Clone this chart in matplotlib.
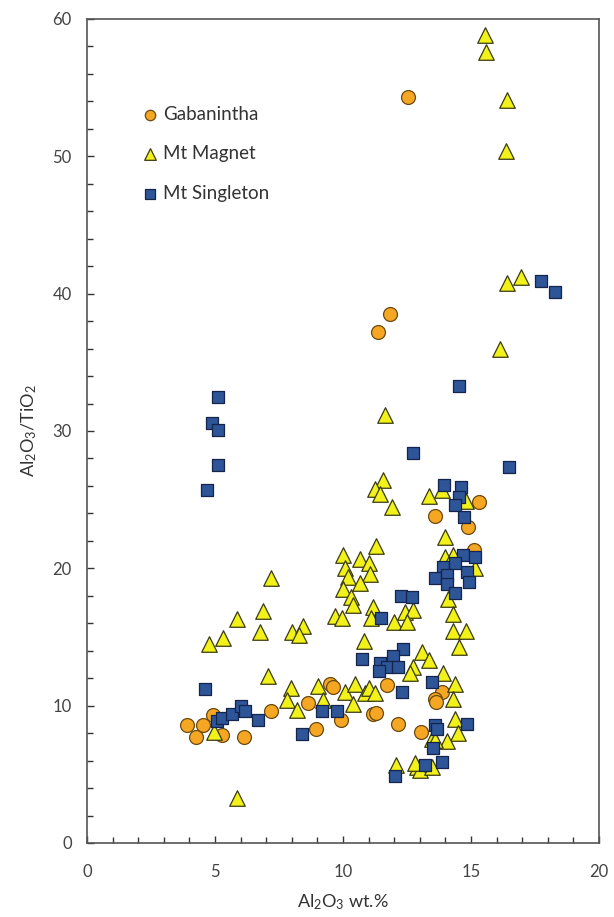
import matplotlib
matplotlib.use("Agg")
import matplotlib.pyplot as plt
from matplotlib.ticker import MultipleLocator

plt.rcParams['font.family'] = ['Lato', 'DejaVu Sans']
plt.rcParams['mathtext.fontset'] = 'custom'
plt.rcParams['mathtext.rm'] = 'Lato'
plt.rcParams['mathtext.it'] = 'Lato:italic'

# Gabanintha (circles)
gab_x = [12.55, 11.84, 11.35, 15.3, 13.59, 14.88, 15.12, 11.7, 13.85, 13.59, 13.63,
         11.18, 11.29, 12.16, 13.04, 9.94, 9.5, 9.6, 8.65, 8.96, 7.18, 6.13, 5.26,
         4.93, 4.52, 3.89, 4.26]
gab_y = [54.3, 38.5, 37.2, 24.8, 23.8, 23.0, 21.3, 11.5, 11.0, 10.5, 10.3,
         9.4, 9.5, 8.7, 8.05, 8.95, 11.6, 11.35, 10.2, 8.3, 9.6, 7.75, 7.9,
         9.3, 8.6, 8.6, 7.75]

# Mt Magnet (triangles)
mag_x = [15.55, 15.6, 16.4, 16.35, 16.4, 16.94, 16.13, 11.64,
         11.58, 11.25, 11.45, 11.9,
         13.37, 13.85, 14.8, 13.98,
         13.98, 14.3, 15.16, 14.1, 14.3, 14.3, 14.8, 14.55,
         10.0, 10.66, 11.0, 10.08, 11.05, 10.2, 10.66, 10.0, 10.33, 10.4,
         9.69, 9.95, 11.29, 11.18, 11.1, 11.99, 12.42, 12.75, 12.5, 10.82,
         7.17, 6.86, 5.85, 6.76, 5.33, 4.78, 8.0, 8.45, 8.3, 7.06, 5.85, 4.97,
         7.96, 7.8, 8.19, 9.04, 9.23, 10.08, 10.47, 10.4, 10.86, 11.0, 11.25,
         13.07, 13.35, 12.75, 12.6, 13.89, 14.38, 14.3, 14.36, 14.48, 14.06,
         13.46, 13.59, 12.88, 13.0, 13.46, 12.81, 12.08]
mag_y = [58.8, 57.6, 54.1, 50.4, 40.8, 41.2, 36.0, 31.2,
         26.4, 25.8, 25.4, 24.5,
         25.3, 25.7, 24.9, 22.3,
         20.85, 21.0, 20.05, 17.8, 16.7, 15.45, 15.45, 14.3,
         21.0, 20.7, 20.4, 20.0, 19.6, 19.4, 18.9, 18.5, 17.9, 17.3,
         16.5, 16.4, 21.6, 17.2, 16.4, 16.1, 16.8, 17.0, 16.1, 14.7,
         19.3, 16.9, 16.3, 15.4, 14.9, 14.5, 15.4, 15.8, 15.15, 12.15, 3.25, 8.05,
         11.3, 10.4, 9.7, 11.4, 10.4, 11.0, 11.55, 10.15, 10.95, 11.25, 10.9,
         13.9, 13.3, 12.85, 12.4, 12.35, 11.6, 10.45, 9.05, 8.0, 7.45,
         7.6, 7.5, 5.55, 5.3, 5.55, 5.8, 5.7]

# Mt Singleton (squares)
sin_x = [5.1, 4.9, 5.13, 5.1, 4.67,
         17.75, 18.3, 14.55, 16.5, 12.72,
         13.93, 14.6, 14.54, 14.38, 14.74,
         14.7, 15.16, 13.9, 14.38, 13.6, 14.05, 14.83, 14.05, 14.93, 14.38,
         12.25, 12.68, 11.47, 10.73,
         12.36, 11.97, 11.45, 11.7, 12.16, 11.42, 12.29, 13.46,
         13.59, 13.68, 14.85, 13.53, 13.85, 13.2, 12.03,
         4.6, 5.09, 5.26, 5.65, 6.02, 6.17, 6.69, 8.38, 9.16, 9.78]
sin_y = [32.5, 30.6, 30.1, 27.5, 25.7,
         40.9, 40.1, 33.3, 27.4, 28.4,
         26.05, 25.9, 25.2, 24.6, 23.75,
         20.95, 20.8, 20.1, 20.4, 19.3, 19.5, 19.75, 18.85, 19.0, 18.2,
         18.0, 17.9, 16.4, 13.4,
         14.1, 13.6, 13.1, 12.85, 12.8, 12.5, 11.0, 11.75,
         8.6, 8.3, 8.7, 6.95, 5.9, 5.7, 4.85,
         11.2, 8.9, 9.1, 9.4, 9.95, 9.6, 8.95, 7.95, 9.6, 9.6]

fig = plt.figure(figsize=(6.14, 9.17), dpi=100)
ax = fig.add_axes([0.1417, 0.0807, 0.8339, 0.8986])

ax.scatter(gab_x, gab_y, marker='o', s=100, facecolor='#F5A623', edgecolor='#6B4A10',
           linewidths=0.9, label='Gabanintha', zorder=3)
ax.scatter(mag_x, mag_y, marker='^', s=125, facecolor='#F2F21A', edgecolor='#3A3A10',
           linewidths=0.9, label='Mt Magnet', zorder=3)
ax.scatter(sin_x, sin_y, marker='s', s=82, facecolor='#2E5597', edgecolor='#14244A',
           linewidths=0.9, label='Mt Singleton', zorder=3)

ax.set_xlim(0, 20)
ax.set_ylim(0, 60)
ax.xaxis.set_major_locator(MultipleLocator(5))
ax.xaxis.set_minor_locator(MultipleLocator(1))
ax.yaxis.set_major_locator(MultipleLocator(10))
ax.yaxis.set_minor_locator(MultipleLocator(2))
ax.tick_params(which='both', direction='in', colors='#333333', labelcolor='#444444',
               labelsize=12)
ax.tick_params(which='major', length=5, width=1)
ax.tick_params(which='minor', length=4, width=1)
ax.tick_params(axis='x', pad=15)
ax.tick_params(axis='y', pad=11)
for sp in ax.spines.values():
    sp.set_color('#555555')
    sp.set_linewidth(1.2)

ax.set_xlabel(r'Al$_2$O$_3$ wt.%', fontsize=13, color='#333333', labelpad=9)
ax.set_ylabel(r'Al$_2$O$_3$/TiO$_2$', fontsize=13, color='#333333', labelpad=10)

leg = ax.legend(loc='upper left', bbox_to_anchor=(0.08, 0.915), frameon=False,
                fontsize=13.5, handlelength=0.6, handletextpad=0.35,
                labelspacing=1.2, markerscale=0.75)
for t in leg.get_texts():
    t.set_color('#333333')

fig.savefig('out.png', dpi=100)
